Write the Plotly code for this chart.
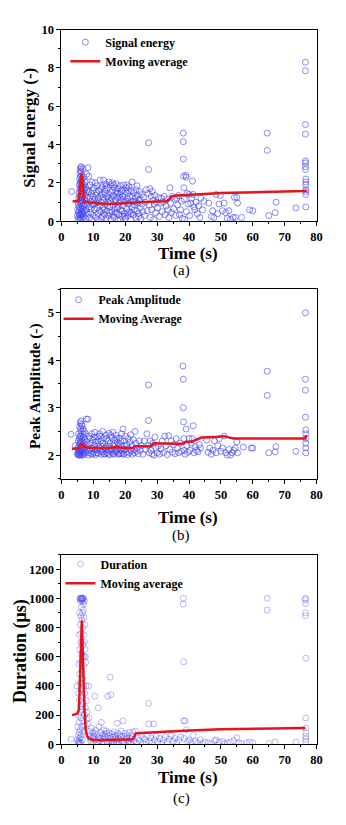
import plotly.graph_objects as go

W, H = 346, 825

# ---------------- data ----------------
# (a) Signal energy: (time s, energy)
energy_pts = [
    (3.2,1.55),
    (5.0,0.3),(5.1,0.6),(5.2,0.1),(5.3,0.9),(5.3,0.45),(5.4,1.2),(5.4,0.2),(5.5,1.5),(5.5,0.75),(5.6,1.9),(5.6,0.35),
    (5.6,1.05),(5.7,2.2),(5.7,0.55),(5.7,1.35),(5.8,2.5),(5.8,0.15),(5.8,1.7),(5.8,0.95),(5.9,2.7),(5.9,2.0),(5.9,0.4),
    (5.9,1.25),(6.0,2.8),(6.0,2.3),(6.0,0.7),(6.0,1.6),(6.0,0.05),(6.1,2.6),(6.1,1.9),(6.1,1.1),(6.1,0.3),(6.2,2.85),
    (6.2,2.1),(6.2,1.45),(6.2,0.6),(6.3,2.4),(6.3,1.75),(6.3,0.9),(6.3,0.2),(6.4,2.2),(6.4,1.3),(6.4,0.5),(6.5,2.0),
    (6.5,1.55),(6.5,0.8),(6.6,1.85),(6.6,1.0),(6.6,0.35),(6.7,2.75),(6.7,1.4),(6.7,0.65),(6.8,1.7),(6.8,0.1),(6.9,1.2),
    (6.9,0.45),(7.0,2.3),(7.0,1.5),(7.0,0.8),(7.1,1.9),(7.1,0.25),(7.2,1.1),(7.3,1.65),(7.3,0.55),(7.4,2.05),(7.5,0.9),
    (7.5,1.35),(7.6,0.15),(7.7,1.75),(7.8,0.6),(7.9,2.45),(8.0,1.2),(8.0,0.4),
    (8.3,2.8),(8.5,2.35),(8.6,1.55),(8.7,0.75),(8.8,0.2),(9.0,1.9),(9.1,1.05),(9.2,0.45),(9.4,1.45),(9.5,0.1),(9.6,2.05),
    (9.7,0.85),(9.9,1.3),(10.0,0.3),(10.1,1.75),(10.3,0.6),(10.4,1.15),(10.6,2.0),(10.7,0.95),(10.8,0.2),(11.0,1.5),
    (11.1,0.7),(11.3,1.85),(11.4,0.4),(11.5,1.2),(11.7,0.05),(11.8,1.6),(12.0,0.85),(12.1,2.15),(12.2,1.35),(12.4,0.5),
    (12.5,1.0),(12.7,1.8),(12.8,0.25),(12.9,1.45),(13.1,0.7),(13.2,2.15),(13.3,1.1),(13.5,0.35),(13.6,1.65),(13.8,0.9),
    (13.9,1.95),(14.0,0.15),(14.2,1.3),(14.3,0.55),(14.5,1.75),(14.6,1.0),(14.8,0.3),(14.9,2.05),(15.0,1.4),(15.2,0.75),
    (15.3,1.9),(15.5,0.1),(15.6,1.2),(15.8,0.5),(15.9,1.6),(16.0,2.0),(16.2,0.85),(16.3,1.35),(16.5,0.2),(16.6,1.75),
    (16.8,1.05),(16.9,0.45),(17.1,1.55),(17.2,1.95),(17.4,0.7),(17.5,1.25),(17.7,0.05),(17.8,1.7),(18.0,0.95),(18.1,0.35),
    (18.3,1.45),(18.4,1.85),(18.6,0.6),(18.7,1.1),(18.9,0.25),(19.0,1.65),(19.2,1.3),(19.3,0.8),(19.5,1.9),(19.6,0.4),
    (19.8,1.0),(20.0,1.55),(20.1,0.15),(20.3,1.75),(20.4,0.65),(20.6,1.2),(20.8,1.45),(20.9,0.3),(21.1,0.9),(21.2,1.8),
    (21.4,0.5),(21.6,1.3),(21.7,0.1),(21.9,1.6),(22.1,0.75),(22.2,2.05),(22.4,1.05),(22.6,0.35),(22.7,1.5),(22.9,0.85),
    (23.1,1.2),(23.3,0.2),(23.4,1.65),(23.6,0.55),(23.8,1.35),(24.0,0.95),(24.1,0.4),(24.3,1.1),(24.5,1.55),(24.7,0.7),
    (24.9,0.15),(25.1,1.4),(25.3,0.9),(25.5,0.5),(25.7,1.25),
    (8.1,1.6),(8.4,0.95),(8.9,1.25),(9.3,0.65),(9.8,1.6),(10.2,0.9),(10.9,1.35),(11.2,1.0),(11.9,0.55),(12.3,1.7),
    (12.6,0.15),(13.0,1.25),(13.4,0.6),(13.7,1.45),(14.1,1.85),(14.4,0.8),(14.7,1.2),(15.1,0.45),(15.4,1.05),(15.7,1.5),
    (16.1,0.3),(16.4,1.9),(16.7,0.65),(17.0,1.15),(17.3,0.4),(17.6,1.45),(17.9,0.75),(18.2,1.25),(18.5,0.1),(18.8,1.55),
    (19.1,0.55),(19.4,1.15),(19.7,0.25),(20.2,1.05),(20.5,1.9),(20.7,0.45),(21.0,1.6),(21.3,0.95),(21.8,0.4),(22.3,1.3),
    (22.8,0.6),(23.2,1.0),(23.7,1.85),(24.2,0.25),(24.6,1.15),
    (26.0,0.3),(26.3,1.0),(26.6,1.65),(26.9,0.55),(27.2,1.45),(27.3,4.1),(27.3,2.7),(27.5,0.85),(27.7,1.7),(27.9,0.2),
    (28.1,1.3),(28.3,0.6),(28.5,1.55),(28.7,1.1),(28.9,0.1),(29.1,0.9),(29.3,1.35),(29.5,0.45),(29.8,1.0),(30.1,0.7),
    (30.4,1.25),(30.7,0.25),(31.0,0.95),(31.3,1.2),(31.6,0.5),(31.9,1.0),(32.2,1.3),(32.5,0.35),(32.8,0.8),(33.1,1.15),
    (33.4,0.6),(33.7,0.2),(34.0,1.75),(34.2,0.95),(34.5,0.45),(34.8,1.3),
    (35.2,0.65),(35.5,1.15),(35.8,0.3),(36.1,1.2),(36.4,0.85),(36.7,1.35),(37.0,0.35),(37.3,0.6),(37.6,1.05),(37.9,0.15),
    (38.2,4.6),(38.2,4.15),(38.2,3.25),(38.3,2.35),(38.4,1.75),(38.5,1.15),(38.6,0.1),(39.0,2.4),(39.1,2.3),(39.2,0.5),
    (39.4,1.45),(39.7,0.9),(40.0,1.4),(40.2,0.3),(40.5,0.95),(40.8,1.2),(41.1,2.1),(41.3,1.4),(41.5,0.75),(41.8,0.6),
    (42.2,1.0),(42.6,0.4),(43.0,0.8),(43.4,0.2),(43.7,1.2),(44.2,0.6),(44.7,1.05),
    (46.2,0.95),(47.0,0.25),(47.4,0.55),(47.8,0.2),(48.5,1.4),(49.0,0.4),(49.4,0.9),(49.8,1.35),(50.5,0.55),(51.0,0.95),
    (51.5,0.45),(52.0,0.15),(52.5,0.55),(53.0,0.1),(53.8,0.2),(54.2,1.25),(54.5,0.2),(55.0,1.25),(55.2,0.95),(56.5,0.2),
    (59.0,0.6),(60.0,0.55),
    (64.5,4.6),(64.5,3.7),(65.0,0.3),(67.0,0.45),(67.3,1.0),(73.5,0.7),
    (76.5,8.3),(76.5,7.85),(76.5,5.05),(76.5,4.55),(76.5,3.15),(76.5,3.05),(76.5,2.85),(76.5,2.7),(76.6,2.2),(76.6,2.05),
    (76.6,1.9),(76.6,1.65),(76.6,1.55),(76.6,1.4),(76.6,0.75),
]
energy_ma_t = [3.5,5.3,5.6,5.9,6.2,6.5,6.8,7.1,7.5,8,10,12,15,18,20,25,30,33,33.8,34.5,36,40,45,50,55,60,65,70,76.5,76.7]
energy_ma_v = [1.05,1.05,1.3,2.0,2.5,2.2,1.5,1.1,1.0,1.0,0.97,0.93,0.9,0.93,0.96,1.0,1.03,1.05,1.15,1.3,1.35,1.4,1.43,1.47,1.5,1.53,1.55,1.56,1.58,1.65]

# (b) Peak amplitude: (time s, amplitude)
amp_pts = [
    (3.0,2.44),(4.3,2.2),
    (5.0,2.02),(5.1,2.15),(5.2,2.05),(5.3,2.3),(5.3,2.0),(5.4,2.1),(5.4,2.45),(5.5,2.02),(5.5,2.2),(5.6,2.35),(5.6,2.07),
    (5.7,2.6),(5.7,2.12),(5.7,2.0),(5.8,2.4),(5.8,2.25),(5.8,2.05),(5.9,2.68),(5.9,2.3),(5.9,2.1),(6.0,2.55),(6.0,2.18),
    (6.0,2.02),(6.1,2.72),(6.1,2.4),(6.1,2.08),(6.2,2.5),(6.2,2.28),(6.2,2.0),(6.3,2.65),(6.3,2.15),(6.4,2.35),(6.4,2.05),
    (6.5,2.62),(6.5,2.22),(6.6,2.45),(6.6,2.1),(6.7,2.3),(6.7,2.0),(6.8,2.55),(6.8,2.17),(6.9,2.38),(6.9,2.04),(7.0,2.25),
    (7.1,2.5),(7.1,2.1),(7.2,2.02),(7.3,2.33),(7.4,2.15),(7.5,2.45),(7.6,2.06),(7.8,2.76),(7.9,2.28),(8.0,2.12),(8.3,2.76),
    (8.5,2.0),
    (8.7,2.4),(8.9,2.1),(9.1,2.25),(9.3,2.03),(9.5,2.45),(9.7,2.15),(9.9,2.32),(10.1,2.06),(10.3,2.2),(10.5,2.48),(10.7,2.01),
    (10.9,2.28),(11.1,2.12),(11.3,2.38),(11.5,2.04),(11.7,2.22),(11.9,2.45),(12.1,2.09),(12.3,2.3),(12.5,2.02),(12.7,2.18),
    (12.9,2.5),(13.1,2.07),(13.3,2.35),(13.5,2.14),(13.7,2.03),(13.9,2.42),(14.1,2.2),(14.3,2.05),(14.5,2.3),(14.7,2.1),
    (14.9,2.46),(15.1,2.01),(15.3,2.25),(15.5,2.13),(15.7,2.38),(15.9,2.05),(16.1,2.48),(16.3,2.2),(16.5,2.02),(16.7,2.32),
    (16.9,2.1),(17.1,2.42),(17.3,2.06),(17.5,2.27),(17.7,2.15),(17.9,2.02),(18.1,2.36),(18.3,2.11),(18.5,2.22),(18.7,2.04),
    (18.9,2.45),(19.1,2.17),(19.3,2.55),(19.5,2.03),(19.7,2.3),(19.9,2.12),(20.1,2.4),(20.3,2.06),(20.5,2.22),(20.7,2.01),
    (20.9,2.35),(21.1,2.14),(21.3,2.05),(21.5,2.28),(21.7,2.43),(21.9,2.09),(22.1,2.2),(22.3,2.02),(22.5,2.33),(22.7,2.12),
    (22.9,2.05),(23.1,2.5),(23.3,2.25),(23.5,2.08),(23.8,2.15),(24.1,2.03),(24.4,2.3),(24.7,2.1),(25.0,2.2),
    (8.2,2.2),(8.6,2.05),(9.0,2.35),(9.4,2.15),(9.8,2.02),(10.2,2.38),(10.6,2.12),(11.0,2.05),(11.4,2.3),(11.8,2.15),
    (12.2,2.4),(12.6,2.08),(13.0,2.25),(13.4,2.02),(13.8,2.15),(14.2,2.35),(14.6,2.02),(15.0,2.18),(15.4,2.42),(15.8,2.1),
    (16.2,2.03),(16.6,2.25),(17.0,2.08),(17.4,2.35),(17.8,2.2),(18.2,2.03),(18.6,2.3),(19.0,2.1),(19.4,2.02),(19.8,2.2),
    (25.5,2.02),(26.0,2.3),(26.4,2.12),(26.8,2.45),(27.1,2.2),(27.3,3.48),(27.3,2.73),(27.5,2.05),(27.8,2.3),(28.1,2.1),
    (28.4,2.02),(28.7,2.25),(29.0,2.0),(29.3,2.38),(29.6,2.15),(30.0,2.05),(30.4,2.2),(30.8,2.02),(31.2,2.13),(31.6,2.3),
    (32.0,2.05),(32.4,2.4),(32.8,2.2),(33.2,2.01),(33.6,2.41),(34.0,2.12),(34.4,2.3),(34.8,2.06),(35.2,2.22),(35.6,2.03),
    (36.0,2.35),(36.4,2.15),(36.8,2.05),(37.2,2.25),(37.6,2.08),(38.1,3.88),(38.2,3.6),(38.2,3.0),(38.3,2.7),(38.4,2.35),
    (38.5,2.1),(38.8,2.02),(39.1,2.55),(39.3,2.2),(39.6,2.06),(40.0,2.35),(40.3,2.1),(40.7,2.25),(41.0,2.35),(41.3,2.62),
    (41.6,2.05),(42.0,2.18),(42.4,2.1),(42.8,2.07),(43.2,2.22),(43.6,2.15),
    (45.5,2.32),(46.0,2.06),(46.5,2.15),(47.0,2.02),(47.5,2.1),(48.0,2.3),(48.5,2.05),(49.0,2.2),(49.5,2.35),(50.0,2.08),
    (50.5,2.15),(51.0,2.4),(51.5,2.05),(52.0,2.0),(52.5,2.12),(53.0,2.0),(53.5,2.05),(54.0,2.1),(54.5,2.15),(55.0,2.28),
    (55.2,2.05),(57.0,2.17),(59.5,2.15),(60.0,2.15),(64.5,3.77),(64.5,3.26),(65.0,2.05),(67.0,2.07),(67.2,2.18),(73.5,2.08),
    (76.5,5.0),(76.5,3.6),(76.5,3.37),(76.5,2.8),(76.6,2.53),(76.6,2.45),(76.6,2.35),(76.6,2.25),(76.6,2.15),(76.6,2.05),
]
amp_ma_t = [3.3,5.5,6.3,7.0,10,15,17,20,22.5,23,28,29,35,38,39,41,42,44,48,51,52,54,60,76.5,76.7]
amp_ma_v = [2.13,2.15,2.25,2.17,2.15,2.15,2.17,2.15,2.15,2.19,2.19,2.25,2.24,2.24,2.28,2.28,2.32,2.37,2.38,2.40,2.38,2.35,2.35,2.35,2.42]

# (c) Duration: (time s, duration us)
dur_pts = [
    (3.0,35),
    (4.8,400),(5.0,30),(5.1,120),(5.2,10),(5.3,200),(5.3,60),(5.4,350),(5.4,20),(5.5,550),(5.5,150),(5.5,5),(5.6,750),
    (5.6,300),(5.6,80),(5.7,900),(5.7,480),(5.7,40),(5.8,1000),(5.8,650),(5.8,220),(5.8,15),(5.9,980),(5.9,820),(5.9,420),
    (5.9,100),(6.0,1000),(6.0,700),(6.0,260),(6.0,50),(6.1,990),(6.1,880),(6.1,560),(6.1,180),(6.1,8),(6.2,1000),(6.2,760),
    (6.2,380),(6.2,70),(6.3,1000),(6.3,940),(6.3,620),(6.3,240),(6.4,995),(6.4,850),(6.4,500),(6.4,120),(6.5,1000),(6.5,700),
    (6.5,330),(6.5,30),(6.6,980),(6.6,900),(6.6,600),(6.7,1000),(6.7,800),(6.7,450),(6.7,160),(6.8,990),(6.8,680),(6.8,280),
    (6.9,1000),(6.9,920),(6.9,540),(7.0,960),(7.0,750),(7.0,400),(7.0,90),(7.1,870),(7.1,600),(7.2,980),(7.2,700),(7.2,200),
    (7.3,820),(7.3,350),(7.4,650),(7.4,130),(7.5,600),(7.5,250),(7.6,560),(7.7,400),(7.8,300),(7.9,170),(8.0,220),(8.2,140),
    (8.5,400),(8.6,180),(8.8,90),
    (9.0,60),(9.2,20),(9.4,110),(9.6,40),(9.8,80),(10.0,10),(10.2,55),(10.5,330),(10.6,30),(10.8,95),(11.0,15),(11.2,70),
    (11.5,250),(11.6,45),(11.8,120),(12.0,25),(12.3,80),(12.5,150),(12.6,5),(12.8,60),(13.0,35),(13.2,100),(13.4,15),
    (13.6,70),(13.8,45),(14.0,90),(14.3,20),(14.5,330),(14.6,60),(14.8,10),(15.0,80),(15.3,460),(15.5,340),(15.4,40),
    (15.7,20),(15.9,70),(16.1,50),(16.3,10),(16.5,85),(16.7,35),(17.0,60),(17.2,15),(17.5,145),(17.6,75),(17.8,40),(18.0,5),
    (18.3,65),(18.5,30),(18.8,90),(19.0,20),(19.3,160),(19.5,55),(19.7,10),(20.0,75),(20.3,35),(20.6,60),(20.9,15),(21.2,80),
    (21.5,40),(21.8,5),(22.1,60),(22.4,85),(22.7,25),
    (9.1,35),(9.9,50),(10.4,75),(11.4,10),(12.2,40),(13.5,55),(14.2,75),(15.2,25),(16.0,5),(16.8,55),(17.4,30),(18.6,50),
    (19.5,15),(20.5,45),(21.0,25),(22.0,35),
    (23.2,90),(23.5,10),(24.0,40),(24.5,25),(25.0,55),(25.5,5),(26.0,35),(26.5,15),(27.0,60),(27.3,280),(27.4,140),(27.6,20),
    (28.0,45),(28.4,10),(28.9,140),(29.2,30),(29.7,55),(30.2,15),(30.8,40),(31.4,5),(32.0,30),(32.6,50),(33.2,15),(33.8,35),
    (34.4,60),(35.0,20),(35.6,40),(36.2,10),(36.8,30),(37.4,50),(38.2,1000),(38.2,960),(38.3,565),(38.3,160),(38.5,40),
    (38.8,160),(39.2,100),(39.6,20),(40.1,30),(40.6,10),(41.3,60),(42.0,20),(42.8,10),(43.5,30),(44.2,5),(45.0,15),(46.0,10),
    (47.0,5),(48.0,25),(48.5,30),(49.5,15),(50.5,20),(51.0,5),(52.0,10),(53.0,15),(54.0,25),(55.0,45),(55.5,10),(56.5,5),
    (58.0,10),(59.0,15),(60.0,10),(64.5,1000),(64.5,920),(65.0,5),(67.0,15),(73.5,15),
    (76.5,1000),(76.5,990),(76.5,965),(76.5,900),(76.5,880),(76.6,590),(76.6,180),(76.6,110),(76.6,80),(76.6,55),(76.6,35),
    (76.6,15),
]
dur_ma_t = [3.3,5.0,5.5,5.8,6.1,6.4,6.6,6.9,7.2,7.6,8.0,8.5,9.0,10,15,20,22.3,22.7,23.3,25,30,40,50,60,70,76.5]
dur_ma_v = [200,210,240,450,750,850,700,450,250,100,60,40,35,30,30,33,35,45,75,78,85,95,103,108,111,112]

panel_names = ["Signal energy", "Peak Amplitude", "Duration"]
ma_names = ["Moving average", "Moving Average", "Moving average"]
y_titles = ["Signal energy (-)", "Peak Amplitude (-)", "Duration (\u03bcs)"]
captions = ["(a)", "(b)", "(c)"]
x_ticks = [0, 10, 20, 30, 40, 50, 60, 70, 80]

# ---------------- layout helpers ----------------
def px(x):
    return x / W

def py(y):
    return 1 - y / H

SERIF = "Liberation Serif, Times New Roman, serif"
BLUE = "#4646ee"
RED = "#e3141b"

# pixel frames: (top, bottom) for each panel
frames = [(23, 218), (287, 480), (557, 750)]
x_left, x_right = 60, 322
y_ranges = [[0, 10], [1.5, 5.5], [0, 1300]]
y_dticks = [2, 1, 200]
ytitle_x = [27, 33, 18]
ytitle_size = [17, 15.5, 18]
legend_pos = [(64, 21), (57, 283), (59, 552)]
xtitle_y = [251, 519, 784]
caption_y = [268, 538, 805]

fig = go.Figure()
all_pts = [energy_pts, amp_pts, dur_pts]
all_ma = [(energy_ma_t, energy_ma_v), (amp_ma_t, amp_ma_v), (dur_ma_t, dur_ma_v)]
opac = [0.9, 0.9, 0.55]

for i in range(3):
    sfx = "" if i == 0 else str(i + 1)
    leg = "legend" + sfx
    pts = all_pts[i]
    fig.add_trace(go.Scatter(
        x=[p[0] for p in pts], y=[p[1] for p in pts], mode="markers",
        name=panel_names[i], xaxis="x" + sfx, yaxis="y" + sfx, legend=leg,
        marker=dict(symbol="circle-open", size=6, color=BLUE, opacity=opac[i], line=dict(width=0.7)),
    ))
    t, v = all_ma[i]
    fig.add_trace(go.Scatter(
        x=t, y=v, mode="lines", name=ma_names[i], xaxis="x" + sfx, yaxis="y" + sfx, legend=leg,
        line=dict(color=RED, width=2.5),
    ))

layout = dict(
    width=W, height=H, margin=dict(l=0, r=0, t=0, b=0),
    paper_bgcolor="white", plot_bgcolor="white", showlegend=True,
    font=dict(family=SERIF, color="black"),
)
annotations = []
for i in range(3):
    sfx = "" if i == 0 else str(i + 1)
    top, bot = frames[i]
    axis_common = dict(
        showline=True, linecolor="black", linewidth=1, mirror=True, showgrid=False, zeroline=False,
        ticks="outside", ticklen=4, tickwidth=1, tickcolor="black",
        tickfont=dict(family=SERIF, size=12.5, weight="bold", color="black"),
    )
    layout["xaxis" + sfx] = dict(
        axis_common, domain=[px(x_left), px(x_right)], range=[0, 80], tickvals=x_ticks,
        anchor="y" + sfx, minor=dict(ticks="outside", ticklen=2, dtick=5, tickcolor="black"),
    )
    layout["yaxis" + sfx] = dict(
        axis_common, domain=[py(bot), py(top)], range=y_ranges[i], dtick=y_dticks[i],
        anchor="x" + sfx, minor=dict(ticks="outside", ticklen=2, dtick=y_dticks[i] / 2, tickcolor="black"),
    )
    lx, ly = legend_pos[i]
    layout["legend" + sfx] = dict(
        x=px(lx), y=py(ly), xanchor="left", yanchor="top", bgcolor="rgba(0,0,0,0)",
        font=dict(family=SERIF, size=12, weight="bold", color="black"), tracegroupgap=0,
    )
    annotations.append(dict(
        text=y_titles[i], xref="paper", yref="paper", x=px(ytitle_x[i]), y=py((top + bot) / 2 + 2),
        textangle=-90, showarrow=False, xanchor="center", yanchor="middle",
        font=dict(family=SERIF, size=ytitle_size[i], weight="bold", color="black"),
    ))
    annotations.append(dict(
        text="Time (s)", xref="paper", yref="paper", x=px(190), y=py(xtitle_y[i]),
        showarrow=False, xanchor="center", yanchor="middle", borderpad=0,
        font=dict(family=SERIF, size=17, weight="bold", color="black"),
    ))
    annotations.append(dict(
        text=captions[i], xref="paper", yref="paper", x=px(183), y=py(caption_y[i]),
        showarrow=False, xanchor="center", yanchor="middle", borderpad=0,
        font=dict(family=SERIF, size=15, color="black"),
    ))
layout["annotations"] = annotations
fig.update_layout(layout)
fig.write_html("out.html")
